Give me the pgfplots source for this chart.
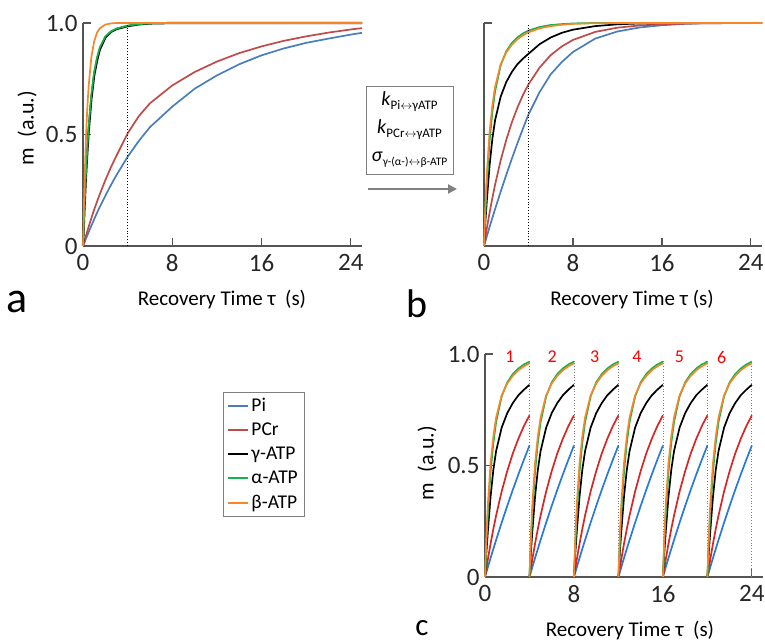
\documentclass[border=0pt]{standalone}
\usepackage{fontspec}
\setmainfont{Carlito}
\usepackage{pgfplots}
\pgfplotsset{compat=1.18}
\usepackage{pgfplotstable}
\usetikzlibrary{arrows.meta}

\definecolor{piblue}{RGB}{74,126,187}
\definecolor{pcrred}{RGB}{190,75,72}
\definecolor{atpgreen}{RGB}{20,178,75}
\definecolor{atporange}{RGB}{245,135,40}
\definecolor{cblue}{RGB}{40,122,214}
\definecolor{cred}{RGB}{214,38,38}
\definecolor{axisgray}{RGB}{85,85,85}

% panel a: before the exchange constants are applied
\pgfplotstableread{
t     pi    pcr   g     a     b
0     0     0     0     0     0
0.125 0.015 0.022 0.16  0.17  0.268
0.25  0.031 0.043 0.30  0.315 0.465
0.375 0.046 0.064 0.41  0.43  0.608
0.5   0.061 0.085 0.51  0.53  0.713
0.75  0.091 0.125 0.66  0.68  0.847
1     0.120 0.163 0.765 0.78  0.918
1.25  0.148 0.198 0.83  0.845 0.956
1.5   0.175 0.232 0.88  0.89  0.976
2     0.225 0.295 0.935 0.94  0.993
2.5   0.273 0.353 0.96  0.962 0.998
3     0.318 0.405 0.973 0.975 1
4     0.400 0.505 0.986 0.988 1
5     0.471 0.582 0.994 0.995 1
6     0.533 0.640 0.998 0.998 1
8     0.625 0.720 1     1     1
10    0.705 0.780 1     1     1
12    0.765 0.827 1     1     1
14    0.815 0.865 1     1     1
16    0.855 0.895 1     1     1
18    0.886 0.920 1     1     1
20    0.911 0.940 1     1     1
22    0.930 0.957 1     1     1
24    0.948 0.971 1     1     1
25    0.956 0.977 1     1     1
}\tabA

% panel b: with exchange
\pgfplotstableread{
t     pi    pcr   g     a     b
0     0     0     0     0     0
0.125 0.021 0.039 0.11  0.155 0.18
0.25  0.043 0.077 0.20  0.28  0.32
0.5   0.085 0.149 0.36  0.47  0.51
0.75  0.126 0.215 0.48  0.60  0.63
1     0.166 0.276 0.565 0.695 0.715
1.5   0.244 0.384 0.67  0.81  0.815
2     0.319 0.475 0.735 0.873 0.868
2.5   0.391 0.554 0.78  0.91  0.902
3     0.460 0.620 0.815 0.935 0.927
3.5   0.526 0.677 0.84  0.953 0.945
4     0.590 0.725 0.862 0.966 0.958
5     0.690 0.800 0.905 0.982 0.976
6     0.770 0.856 0.935 0.991 0.986
7     0.825 0.895 0.956 0.995 0.992
8     0.870 0.924 0.970 0.998 0.996
10    0.930 0.960 0.986 1     0.999
12    0.962 0.979 0.994 1     1
14    0.980 0.989 0.998 1     1
16    0.990 0.994 1     1     1
18    0.996 0.997 1     1     1
20    0.999 0.999 1     1     1
25    1     1     1     1     1
}\tabB

% panel c: one 4 s recovery segment, repeated
\pgfplotstableread{
t     pi    pcr   g     a     b
0     0     0     0     0     0
0.125 0.021 0.039 0.11  0.155 0.18
0.25  0.043 0.077 0.20  0.28  0.32
0.5   0.085 0.149 0.36  0.47  0.51
0.75  0.126 0.215 0.48  0.60  0.63
1     0.166 0.276 0.565 0.695 0.715
1.5   0.244 0.384 0.67  0.81  0.815
2     0.319 0.475 0.735 0.873 0.868
2.5   0.391 0.554 0.78  0.91  0.902
3     0.460 0.620 0.815 0.935 0.927
3.5   0.526 0.677 0.84  0.953 0.945
4     0.590 0.725 0.862 0.966 0.958
}\tabC

\pgfplotsset{
  panel/.style={
    scale only axis, width=279pt, height=223pt, anchor=origin,
    xmin=0, xmax=25, ymin=0, ymax=1,
    axis x line=bottom, axis y line=left,
    axis line style={-, line width=1.2pt, draw=axisgray},
    xtick={0,8,16,24}, xticklabels={0,8,16,24},
    ytick={0,0.5,1}, yticklabels={0,0.5,1.0},
    tick align=inside, major tick length=8pt,
    tick style={line width=1.2pt, draw=axisgray},
    tick label style={font=\fontsize{25}{29}\selectfont, text=black!85},
    xticklabel style={yshift=-5pt},
    yticklabel style={xshift=-2pt},
    clip=false,
    every axis plot/.append style={line width=1.7pt, no marks},
  },
}

\newcommand{\xlab}{\fontsize{21}{25}\selectfont}

\begin{document}
\begin{tikzpicture}
\path[use as bounding box] (0pt,0pt) rectangle (765pt,644pt);

% ---- a ----
\begin{axis}[panel, at={(83pt,398pt)},
  legend style={at={(0.502,-0.655)}, anchor=north west, draw=gray,
    font=\fontsize{19.5}{22}\selectfont, row sep=6pt, inner sep=4pt},
  legend cell align=left,
  legend image code/.code={\draw[#1, line width=2.2pt] (0pt,0pt) -- (20pt,0pt);}]
  \addplot[draw=piblue] table[x=t, y=pi]{\tabA};
  \addlegendentry{Pi}
  \addplot[draw=pcrred] table[x=t, y=pcr]{\tabA};
  \addlegendentry{PCr}
  \addplot[draw=black, line width=2.2pt] table[x=t, y=g]{\tabA};
  \addlegendentry{γ-ATP}
  \addplot[draw=atpgreen] table[x=t, y=a]{\tabA};
  \addlegendentry{α-ATP}
  \addplot[draw=atporange] table[x=t, y=b]{\tabA};
  \addlegendentry{β-ATP}
  \draw[black, dotted, line width=0.9pt] (axis cs:4,0) -- (axis cs:4,0.99);
\end{axis}

% ---- b ----
\begin{axis}[panel, at={(484pt,398pt)}, width=278pt, yticklabels={}]
  \addplot[draw=piblue] table[x=t, y=pi]{\tabB};
  \addplot[draw=pcrred] table[x=t, y=pcr]{\tabB};
  \addplot[draw=black] table[x=t, y=g]{\tabB};
  \addplot[draw=atpgreen] table[x=t, y=a]{\tabB};
  \addplot[draw=atporange] table[x=t, y=b]{\tabB};
  \draw[black, dotted, line width=0.9pt] (axis cs:4,0) -- (axis cs:4,1);
\end{axis}

% ---- c ----
\begin{axis}[panel, at={(485pt,67pt)}, width=278pt]
  \pgfplotsinvokeforeach{4,8,12,16,20,24}{
    \draw[gray, dotted, line width=0.8pt] (axis cs:#1,0) -- (axis cs:#1,0.97);
  }
  \pgfplotsinvokeforeach{0,4,8,12,16,20}{
    \addplot[draw=cblue] table[x expr=\thisrow{t}+#1, y=pi]{\tabC};
    \addplot[draw=cred] table[x expr=\thisrow{t}+#1, y=pcr]{\tabC};
    \addplot[draw=black] table[x expr=\thisrow{t}+#1, y=g]{\tabC};
    \addplot[draw=atpgreen] table[x expr=\thisrow{t}+#1, y=a]{\tabC};
    \addplot[draw=atporange] table[x expr=\thisrow{t}+#1, y=b]{\tabC};
  }
  \node[text=red, font=\fontsize{18}{20}\selectfont] at (axis cs:2.24,0.986) {1};
  \node[text=red, font=\fontsize{18}{20}\selectfont] at (axis cs:6.05,0.986) {2};
  \node[text=red, font=\fontsize{18}{20}\selectfont] at (axis cs:9.86,0.986) {3};
  \node[text=red, font=\fontsize{18}{20}\selectfont] at (axis cs:13.67,0.986) {4};
  \node[text=red, font=\fontsize{18}{20}\selectfont] at (axis cs:17.48,0.986) {5};
  \node[text=red, font=\fontsize{18}{20}\selectfont] at (axis cs:21.29,0.986) {6};
\end{axis}

% axis titles
\node[font=\xlab] at (222pt,344pt) {Recovery Time τ\ \ (s)};
\node[font=\xlab] at (632pt,344pt) {Recovery Time τ (s)};
\node[font=\xlab, inner sep=0pt] at (630pt,13pt) {Recovery Time τ\ \ (s)};
\node[font=\fontsize{22}{26}\selectfont, rotate=90] at (27pt,516pt) {m\ \ (a.u.)};
\node[font=\fontsize{22}{26}\selectfont, rotate=90] at (427pt,181pt) {m\ \ (a.u.)};

% panel letters
\node[font=\fontsize{44}{48}\selectfont, inner sep=0pt] at (17pt,342pt) {a};
\node[font=\fontsize{40}{44}\selectfont, inner sep=0pt] at (417pt,340pt) {b};
\node[font=\fontsize{31}{34}\selectfont, inner sep=0pt, anchor=base] at (422pt,8pt) {c};

% parameter box and arrow
\node[draw=gray, line width=0.8pt, minimum width=87pt, minimum height=88pt,
  align=center, inner sep=2pt, font=\fontsize{20}{28}\selectfont] at (409.5pt,514pt)
  {\textit{k}{\fontsize{13}{14}\selectfont\raisebox{-4pt}{Pi$\leftrightarrow$γATP}}\\
   \textit{k}{\fontsize{13}{14}\selectfont\raisebox{-4pt}{PCr$\leftrightarrow$γATP}}\\
   \textit{σ}{\fontsize{11.5}{13}\selectfont\raisebox{-4pt}{γ-(α-)$\leftrightarrow$β-ATP}}};
\draw[gray, line width=2pt, -{Triangle[length=9pt, width=9pt]}] (368pt,455pt) -- (457pt,455pt);
\end{tikzpicture}
\end{document}
